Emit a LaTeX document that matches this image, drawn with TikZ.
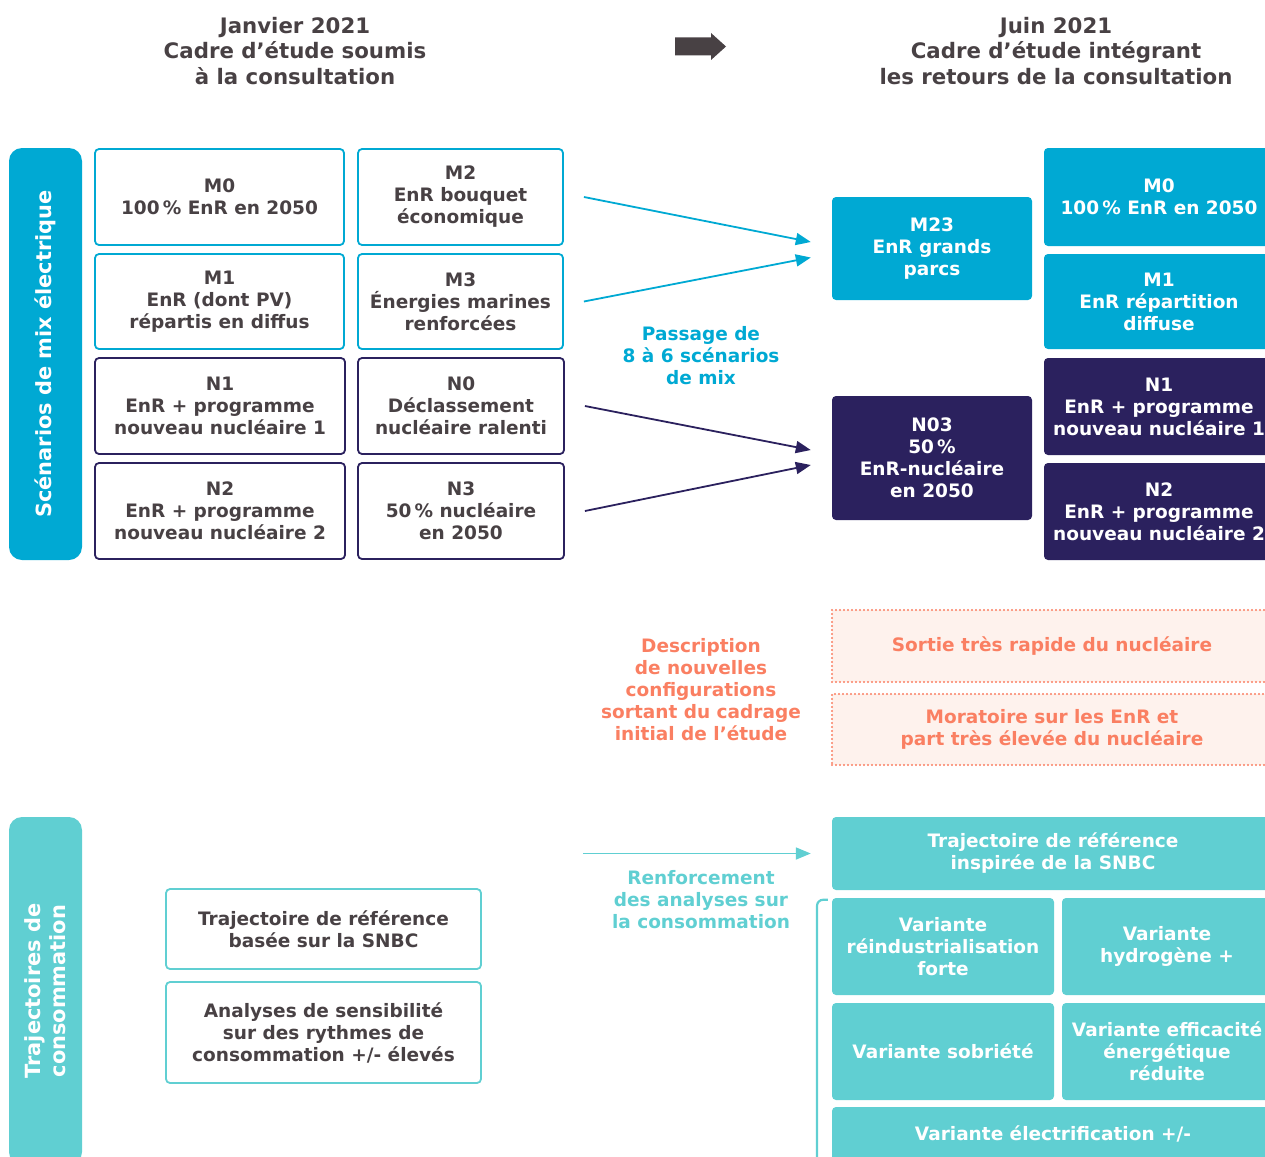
\documentclass[tikz,border=0pt]{standalone}
\usepackage{fontspec}
\setmainfont{DejaVu Sans}
\usetikzlibrary{
  arrows.meta,
  calc
}
\definecolor{mixblue}{RGB}{0,169,211}
\definecolor{nucnavy}{RGB}{43,33,94}
\definecolor{conteal}{RGB}{96,207,210}
\definecolor{salmon}{RGB}{250,127,98}
\definecolor{salmonbg}{RGB}{254,242,237}
\definecolor{textgray}{RGB}{72,65,68}

\begin{document}
\begin{tikzpicture}[x=1pt, y=-1pt,
    every node/.style={font=\fontsize{18.5}{22}\selectfont\bfseries, align=center, inner sep=0pt},
    title/.style={font=\fontsize{21.3}{25.5}\selectfont\bfseries, text=textgray},
    oldbox/.style={draw=#1, fill=white, line width=1.8pt, rounded corners=4pt, text=textgray},
    newbox/.style={fill=#1, rounded corners=4pt, text=white},
    sidebar/.style={fill=#1, rounded corners=13pt, text=white, rotate=90, minimum height=73,
      font=\fontsize{20.9}{25}\selectfont\bfseries},
    newidea/.style={draw=salmon, fill=salmonbg, line width=2.2pt, line cap=round,
      dash pattern=on 0pt off 4pt, text=salmon, minimum width=440},
    conn/.style={draw=#1, line width=1.8pt, -{Triangle[length=15pt,width=12pt]}}]
  \useasboundingbox (0,0) rectangle (1265,1156);

  % titles
  \node[title] (before) at (295,51) {Janvier 2021\\Cadre d’étude soumis\\à la consultation};
  \node[title] (after) at (1056,51) {Juin 2021\\Cadre d’étude intégrant\\les retours de la consultation};
  \fill[textgray] (675,37.5) -- (711,37.5) -- (711,33) -- (726,46.5) -- (711,60) -- (711,55.5) -- (675,55.5) -- cycle;

  % side bars
  \node[sidebar=mixblue, minimum width=412] (mixbar) at (45.5,354) {Scénarios de mix électrique};
  \node[sidebar=conteal, minimum width=348] (conbar) at (45.5,991) {Trajectoires de\\consommation};

  % scenarios 2021
  \node[oldbox=mixblue, minimum width=249, minimum height=96] (M0) at (219.5,197) {M0\\100\,\% EnR en 2050};
  \node[oldbox=mixblue, minimum width=205, minimum height=96] (M2) at (460.5,197) {M2\\EnR bouquet\\économique};
  \node[oldbox=mixblue, minimum width=249, minimum height=95] (M1) at (219.5,301.5) {M1\\EnR (dont PV)\\répartis en diffus};
  \node[oldbox=mixblue, minimum width=205, minimum height=95] (M3) at (460.5,301.5) {M3\\Énergies marines\\renforcées};
  \node[oldbox=nucnavy, minimum width=250, minimum height=96] (N1) at (220,406) {N1\\EnR + programme\\nouveau nucléaire 1};
  \node[oldbox=nucnavy, minimum width=206, minimum height=96] (N0) at (461,406) {N0\\Déclassement\\nucléaire ralenti};
  \node[oldbox=nucnavy, minimum width=250, minimum height=96] (N2) at (220,511) {N2\\EnR + programme\\nouveau nucléaire 2};
  \node[oldbox=nucnavy, minimum width=206, minimum height=96] (N3) at (461,511) {N3\\50\,\% nucléaire\\en 2050};

  % scenarios 2021 revised
  \node[newbox=mixblue, minimum width=200, minimum height=103] (M23) at (932,248.5) {M23\\EnR grands\\parcs};
  \node[newbox=nucnavy, minimum width=200, minimum height=124] (N03) at (932,458) {N03\\50\,\%\\EnR-nucléaire\\en 2050};
  \node[newbox=mixblue, minimum width=230, minimum height=98] (M0r) at (1159,197) {M0\\100\,\% EnR en 2050};
  \node[newbox=mixblue, minimum width=230, minimum height=95] (M1r) at (1159,301.5) {M1\\EnR répartition\\diffuse};
  \node[newbox=nucnavy, minimum width=230, minimum height=97] (N1r) at (1159,406.5) {N1\\EnR + programme\\nouveau nucléaire 1};
  \node[newbox=nucnavy, minimum width=230, minimum height=97] (N2r) at (1159,511.5) {N2\\EnR + programme\\nouveau nucléaire 2};

  % middle labels
  \node[text=mixblue] (passage) at (701,356) {Passage de\\8 à 6 scénarios\\de mix};
  \node[text=salmon] (descr) at (701,690) {Description\\de nouvelles\\configurations\\sortant du cadrage\\initial de l’étude};
  \node[text=conteal] (renfort) at (701,900) {Renforcement\\des analyses sur\\la consommation};

  % new configurations
  \node[newidea, minimum height=72] (sortie) at (1052,646) {Sortie très rapide du nucléaire};
  \node[newidea, minimum height=71] (morat) at (1052,729.5) {Moratoire sur les EnR et\\part très élevée du nucléaire};

  % consumption 2021
  \node[oldbox=conteal, minimum width=315, minimum height=80] (snbc) at (323.5,929) {Trajectoire de référence\\basée sur la SNBC};
  \node[oldbox=conteal, minimum width=315, minimum height=101] (sensib) at (323.5,1032.5) {Analyses de sensibilité\\sur des rythmes de\\consommation +/- élevés};

  % consumption revised
  \node[newbox=conteal, minimum width=442, minimum height=73] (refr) at (1053,853.5) {Trajectoire de référence\\inspirée de la SNBC};
  \node[newbox=conteal, minimum width=222, minimum height=97] (reind) at (943,946.5) {Variante\\réindustrialisation\\forte};
  \node[newbox=conteal, minimum width=210, minimum height=97] (hydro) at (1167,946.5) {Variante\\hydrogène +};
  \node[newbox=conteal, minimum width=222, minimum height=97] (sobr) at (943,1051.5) {Variante sobriété};
  \node[newbox=conteal, minimum width=210, minimum height=97] (effic) at (1167,1051.5) {Variante efficacité\\énergétique\\réduite};
  \node[newbox=conteal, minimum width=442, minimum height=54] (elec) at (1053,1134) {Variante électrification +/-};

  % connectors
  \coordinate (m2out) at ([xshift=20pt]M2.east);
  \coordinate (m3out) at ([xshift=20pt]M3.east);
  \coordinate (n0out) at ([xshift=20pt]N0.east);
  \coordinate (n3out) at ([xshift=20pt]N3.east);
  \coordinate (m23in) at ([xshift=-21pt,yshift=6.5pt]M23.west);
  \coordinate (m23inb) at ([xshift=-21pt,yshift=-9pt]M23.west);
  \coordinate (n03in) at ([xshift=-21pt,yshift=8pt]N03.west);
  \coordinate (n03inb) at ([xshift=-21pt,yshift=-7pt]N03.west);
  \coordinate (conout) at ([xshift=-249pt]refr.west);
  \coordinate (conin) at ([xshift=-21pt]refr.west);
  \draw[conn=mixblue] (m2out) -- (m23in);
  \draw[conn=mixblue] (m3out) -- (m23inb);
  \draw[conn=nucnavy] (n0out) -- (n03in);
  \draw[conn=nucnavy] (n3out) -- (n03inb);
  \draw[conn=conteal] (conout) -- (conin);

  % bracket
  \coordinate (brtop) at ([xshift=-4pt,yshift=-2pt]reind.north west);
  \coordinate (brbot) at (817,1170);
  \draw[conteal, line width=2.2pt, rounded corners=6pt] (brtop) -| (brbot);
\end{tikzpicture}
\end{document}
